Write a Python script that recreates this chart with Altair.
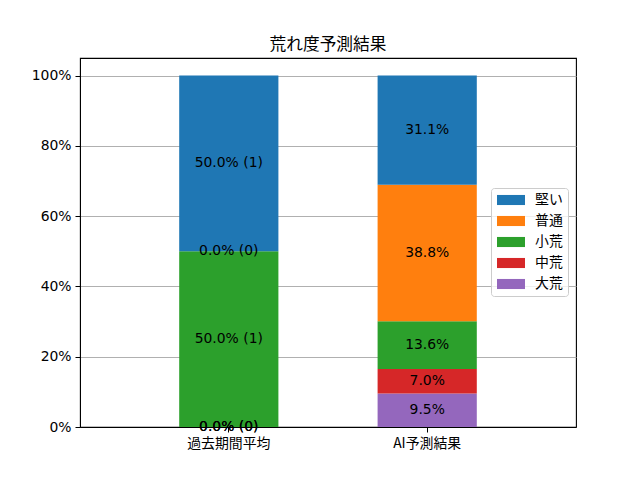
import altair as alt
import pandas as pd

categories = ["過去期間平均", "AI予測結果"]
series = ["大荒", "中荒", "小荒", "普通", "堅い"]  # bottom -> top
legend_order = ["堅い", "普通", "小荒", "中荒", "大荒"]
colors = ["#1f77b4", "#ff7f0e", "#2ca02c", "#d62728", "#9467bd"]

past_pct = [0.0, 0.0, 50.0, 0.0, 50.0]
past_cnt = [0, 0, 1, 0, 1]
ai_pct = [9.5, 7.0, 13.6, 38.8, 31.1]

rows = []
for i, s in enumerate(series):
    rows.append({"cat": categories[0], "series": s, "order": i, "value": past_pct[i],
                 "label": f"{past_pct[i]:.1f}% ({past_cnt[i]})"})
for i, s in enumerate(series):
    rows.append({"cat": categories[1], "series": s, "order": i, "value": ai_pct[i],
                 "label": f"{ai_pct[i]:.1f}%"})
df = pd.DataFrame(rows)

JP = "Noto Sans CJK JP"
LAT = "DejaVu Sans"

base = alt.Chart(df).transform_stack(
    stack="value", groupby=["cat"], as_=["y0", "y1"],
    sort=[alt.SortField("order", order="ascending")]
).transform_calculate(mid="(datum.y0 + datum.y1) / 2")

xenc = alt.X("cat:N", sort=categories, title=None,
             scale=alt.Scale(paddingInner=0.5, paddingOuter=0.5),
             axis=alt.Axis(labelAngle=0, labelFont=JP, labelFontSize=13.9, labelColor="black",
                           tickColor="black", tickSize=5, labelPadding=4,
                           domainColor="black", grid=False, zindex=1))

bars = base.mark_bar().encode(
    x=xenc,
    y=alt.Y("y0:Q", title=None,
            scale=alt.Scale(domain=[0, 105], nice=False, zero=True),
            axis=alt.Axis(values=[0, 20, 40, 60, 80, 100], labelExpr="datum.value + '%'",
                          labelFont=LAT, labelFontSize=13.9, labelColor="black",
                          tickColor="black", tickSize=5, labelPadding=4,
                          domainColor="black", grid=True, gridColor="#b0b0b0",
                          gridWidth=1.1)),
    y2="y1:Q",
    color=alt.Color("series:N",
                    scale=alt.Scale(domain=legend_order, range=colors),
                    legend=alt.Legend(title=None, orient="none", legendX=411, legendY=130,
                                      labelFont=JP, labelFontSize=13.9, labelColor="black",
                                      symbolType="M-2,-0.72H2V0.72H-2Z", symbolSize=196,
                                      symbolStrokeWidth=0, rowPadding=7, symbolOffset=8,
                                      fillColor="rgba(255,255,255,0.8)", strokeColor="#cccccc",
                                      cornerRadius=3, padding=5, labelOffset=17)),
)

texts = base.mark_text(font=LAT, fontSize=13.9, color="black", baseline="middle").encode(
    x=alt.X("cat:N", sort=categories),
    y=alt.Y("mid:Q"),
    text="label:N",
)

chart = alt.layer(bars, texts).properties(
    width=496, height=369,
    title=alt.TitleParams("荒れ度予測結果", font=JP, fontSize=16.7, fontWeight="normal",
                          color="black", offset=-9, baseline="alphabetic"),
    autosize=alt.AutoSizeParams(type="none"),
    padding={"left": 72, "top": 50, "right": 54, "bottom": 43},
).configure_view(stroke="black", strokeWidth=1.1)

chart.save("out.html", embed_options={"renderer": "svg", "actions": False})
